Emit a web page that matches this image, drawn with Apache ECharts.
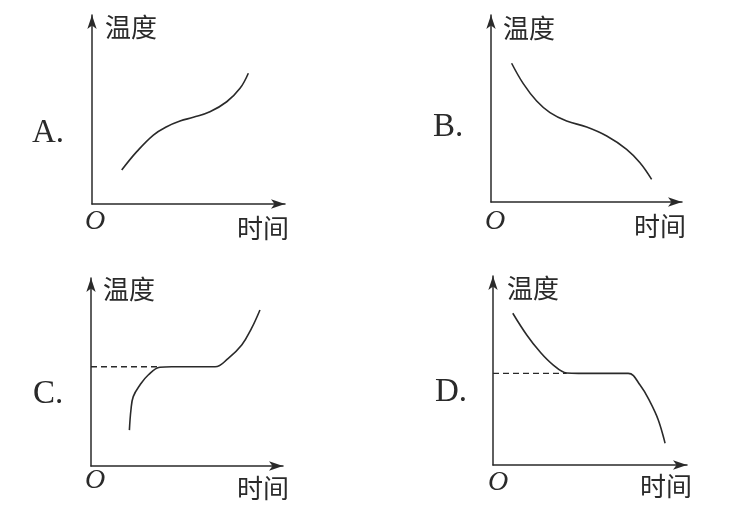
<!DOCTYPE html>
<html><head><meta charset="utf-8">
<script src="https://cdn.jsdelivr.net/npm/echarts@6/dist/echarts.min.js"></script>
<style>html,body{margin:0;padding:0;background:#fff}#c{width:731px;height:516px}</style>
</head><body><div id="c"></div>
<script>
// Data (x = time, y = temperature, arbitrary units 0..10)
const curveA = [[1.54,1.8],[2.32,2.77],[3.18,3.65],[3.87,4.09],[4.56,4.39],[5.25,4.59],[6.11,4.88],[6.98,5.41],[7.67,6.12],[8.1,6.92]];
const curveB = [[1.08,7.42],[1.69,6.33],[2.39,5.4],[3.09,4.78],[3.96,4.33],[5.01,4.01],[6.06,3.53],[7.1,2.82],[7.8,2.1],[8.41,1.21]];
const curveC = [[2.0,1.91],[2.08,2.98],[2.2,3.69],[2.55,4.31],[2.98,4.84],[3.59,5.25],[4.2,5.28],[5.0,5.28],[6.46,5.28],[7.15,5.73],[7.85,6.44],[8.36,7.32],[8.8,8.3]];
const curveD = [[1.02,8.03],[1.74,6.88],[2.42,5.99],[3.11,5.29],[3.8,4.87],[4.4,4.85],[5.4,4.85],[6.97,4.85],[7.58,4.23],[8.09,3.35],[8.52,2.38],[8.87,1.15]];
const dashC = [[0,5.28],[3.59,5.28]];
const dashD = [[0,4.85],[3.8,4.85]];
const optionLabels = ['A.','B.','C.','D.'];
const yName = '温度';
const xName = '时间';
const originLabel = 'O';

const grids = [
  {left:92, top:15, width:193, height:189},
  {left:491, top:15, width:191, height:187},
  {left:91, top:278, width:192, height:188},
  {left:493, top:276, width:194, height:189}
];
const ink = '#2a2a2a';
const axisCommon = {
  type:'value', min:0, max:10,
  axisLine:{show:true, onZero:false, symbol:['none','arrow'], symbolSize:[7,14], lineStyle:{color:ink, width:1.5}},
  axisTick:{show:false}, axisLabel:{show:false}, splitLine:{show:false}
};
const xAxes = grids.map((g,i)=>Object.assign({gridIndex:i}, axisCommon));
const yAxes = grids.map((g,i)=>Object.assign({gridIndex:i}, axisCommon));
const curves = [curveA, curveB, curveC, curveD];
const series = curves.map((d,i)=>({
  type:'line', xAxisIndex:i, yAxisIndex:i, data:d, smooth:0.4, showSymbol:false,
  lineStyle:{color:ink, width:1.6}, silent:true
}));
series.push({type:'line', xAxisIndex:2, yAxisIndex:2, data:dashC, showSymbol:false, lineStyle:{color:ink, width:1.3, type:[6,4]}, silent:true});
series.push({type:'line', xAxisIndex:3, yAxisIndex:3, data:dashD, showSymbol:false, lineStyle:{color:ink, width:1.3, type:[6,4]}, silent:true});

// label positions [x, y(center)]
const labelPos = [
  {yn:[105,29], opt:[32,134], o:[85,222], xn:[237,230]},
  {yn:[503,30], opt:[433,128], o:[485,222], xn:[634,228]},
  {yn:[103,291], opt:[33,395], o:[85,481], xn:[237,490]},
  {yn:[507,290], opt:[435,393], o:[488,483], xn:[640,488]}
];
const cjk = '"Noto Sans CJK SC", sans-serif';
const serif = '"Liberation Serif","DejaVu Serif", serif';
const graphic = [];
labelPos.forEach((p,i)=>{
  graphic.push({type:'text', left:p.yn[0], top:p.yn[1]-15, style:{text:yName, font:'26px '+cjk, fill:ink}});
  graphic.push({type:'text', left:p.xn[0], top:p.xn[1]-15, style:{text:xName, font:'26px '+cjk, fill:ink}});
  graphic.push({type:'text', left:p.opt[0], top:p.opt[1]-17, style:{text:optionLabels[i], font:'33px '+serif, fill:ink}});
  graphic.push({type:'text', left:p.o[0], top:p.o[1]-14, style:{text:originLabel, font:'italic 28px '+serif, fill:ink}});
});

const chart = echarts.init(document.getElementById('c'));
chart.setOption({
  animation:false,
  backgroundColor:'#fff',
  grid:grids,
  xAxis:xAxes,
  yAxis:yAxes,
  series:series,
  graphic:graphic
});
</script></body></html>
